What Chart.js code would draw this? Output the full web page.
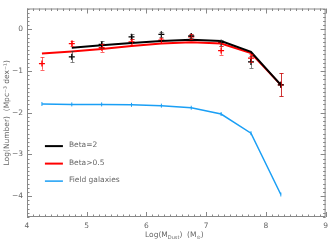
<!DOCTYPE html>
<html><head><meta charset="utf-8">
<script src="https://cdn.jsdelivr.net/npm/chart.js@4/dist/chart.umd.min.js"></script>
<style>html,body{margin:0;padding:0;background:#fff}#wrap{width:333px;height:240px}</style>
</head><body><div id="wrap"><canvas id="c" width="333" height="240"></canvas></div>
<script>
const massBins = [4.25, 4.75, 5.25, 5.75, 6.25, 6.75, 7.25, 7.75, 8.25];
const beta2Fit = [null, -0.44, -0.38, -0.33, -0.28, -0.25, -0.28, -0.54, -1.33];
const betaHalfFit = [-0.58, -0.53, -0.47, -0.40, -0.34, -0.31, -0.34, -0.57, -1.33];
const fieldFit = [-1.79, -1.80, -1.80, -1.81, -1.83, -1.88, -2.03, -2.49, -3.96];
const beta2Obs = [null, -0.66, -0.36, -0.18, -0.12, -0.16, -0.32, -0.78, -1.33];
const beta2Err = [null, 0.13, 0.08, 0.06, 0.06, 0.05, 0.07, 0.15, 0.28];
const betaHalfObs = [-0.82, -0.34, -0.44, -0.30, -0.26, -0.18, -0.51, -0.69, -1.33];
const betaHalfErr = [0.15, 0.07, 0.10, 0.07, 0.06, 0.06, 0.10, 0.10, 0.28];
const xTicks = [4, 5, 6, 7, 8, 9];
const yTicks = [-4, -3, -2, -1, 0];
const legendLabels = ['Beta=2', 'Beta>0.5', 'Field galaxies'];

const BLACK = '#000000', RED = '#ff0000', BLUE = '#1a9ff5';
const TXT = '#666666', FRAME = '#888888';
const FONT = '"DejaVu Sans", sans-serif';

function pts(xs, ys) { return xs.map((x, i) => ({x: x, y: ys[i]})).filter(p => p.y !== null); }

const frameTicks = {
  id: 'frameTicks',
  afterDraw(chart) {
    const {ctx, chartArea: a, scales: {x, y}} = chart;
    ctx.save();
    ctx.strokeStyle = FRAME; ctx.lineWidth = 1;
    ctx.strokeRect(a.left + 0.5, a.top + 0.5, a.right - a.left - 1, a.bottom - a.top - 1);
    ctx.beginPath();
    for (let k = 40; k <= 90; k++) {
      const v = k / 10, px = Math.round(x.getPixelForValue(v)) + 0.5;
      const L = (k % 10 === 0) ? 5 : 2.5;
      ctx.moveTo(px, a.bottom); ctx.lineTo(px, a.bottom - L);
      ctx.moveTo(px, a.top); ctx.lineTo(px, a.top + L);
    }
    for (let k = -45; k <= 5; k++) {
      const v = k / 10, py = Math.round(y.getPixelForValue(v)) + 0.5;
      const L = (k % 10 === 0) ? 5 : 2.5;
      ctx.moveTo(a.left, py); ctx.lineTo(a.left + L, py);
      ctx.moveTo(a.right, py); ctx.lineTo(a.right - L, py);
    }
    ctx.stroke();

    ctx.fillStyle = TXT;
    ctx.textBaseline = 'alphabetic';
    const parts = [['Log(M', 7.5, 0], ['Dust', 5, 2], [')  (M', 7.5, 0], ['\u2299', 5, 2], [')', 7.5, 0]];
    let w = 0;
    parts.forEach(p => { ctx.font = p[1] + 'px ' + FONT; w += ctx.measureText(p[0]).width; });
    let cx = (a.left + a.right) / 2 - w / 2 - 2;
    parts.forEach(p => { ctx.font = p[1] + 'px ' + FONT; ctx.fillText(p[0], cx, 237 + p[2]); cx += ctx.measureText(p[0]).width; });

    ctx.save();
    ctx.translate(7, (a.top + a.bottom) / 2);
    ctx.rotate(-Math.PI / 2);
    ctx.font = '7.5px ' + FONT; ctx.textAlign = 'center';
    ctx.fillText('Log(Number)  (Mpc\u207B\u00B3 dex\u207B\u00B9)', 0, 2);
    ctx.restore();

    const cols = [BLACK, RED, BLUE];
    const lx = x.getPixelForValue(4.3), ly0 = y.getPixelForValue(-2.8), dy = 17.5;
    legendLabels.forEach((t, i) => {
      const yy = ly0 + i * dy;
      ctx.strokeStyle = cols[i]; ctx.lineWidth = (i === 2) ? 1.5 : 2;
      ctx.beginPath(); ctx.moveTo(lx, yy); ctx.lineTo(lx + 18, yy); ctx.stroke();
      ctx.font = '7.5px ' + FONT; ctx.textAlign = 'left'; ctx.textBaseline = 'middle';
      ctx.fillText(t, lx + 24, yy - 1);
    });
    ctx.restore();
  }
};

const errBars = {
  id: 'errBars',
  afterDatasetsDraw(chart) {
    const {ctx, scales: {x, y}} = chart;
    ctx.save(); ctx.lineWidth = 1;
    const draw = (vals, errs, col) => {
      ctx.strokeStyle = col; ctx.beginPath();
      massBins.forEach((m, i) => {
        if (vals[i] === null) return;
        const px = Math.round(x.getPixelForValue(m)) + 0.5;
        const y1 = y.getPixelForValue(vals[i] + errs[i]), y2 = y.getPixelForValue(vals[i] - errs[i]);
        ctx.moveTo(px, y1); ctx.lineTo(px, y2);
        ctx.moveTo(px - 2, Math.round(y1) + 0.5); ctx.lineTo(px + 2, Math.round(y1) + 0.5);
        ctx.moveTo(px - 2, Math.round(y2) + 0.5); ctx.lineTo(px + 2, Math.round(y2) + 0.5);
      });
      ctx.stroke();
    };
    ctx.globalAlpha = 0.6;
    draw(beta2Obs, beta2Err, '#333');
    draw(betaHalfObs, betaHalfErr, RED);
    ctx.restore();
  }
};

new Chart(document.getElementById('c'), {
  type: 'scatter',
  data: {
    datasets: [
      {label: legendLabels[2], data: pts(massBins, fieldFit), showLine: true, tension: 0, borderColor: BLUE, borderWidth: 1.5,
       pointStyle: 'line', rotation: 90, pointRadius: 2, pointBorderColor: BLUE, pointBorderWidth: 1},
      {label: legendLabels[0], data: pts(massBins, beta2Fit), showLine: true, tension: 0, borderColor: BLACK, borderWidth: 2, pointRadius: 0},
      {label: legendLabels[1], data: pts(massBins, betaHalfFit), showLine: true, tension: 0, borderColor: RED, borderWidth: 2, pointRadius: 0},
      {label: 'obs2', data: pts(massBins, beta2Obs), showLine: false, pointStyle: 'cross', pointRadius: 3,
       pointBorderColor: BLACK, pointBorderWidth: 1.3},
      {label: 'obsHalf', data: pts(massBins, betaHalfObs), showLine: false, pointStyle: 'cross', pointRadius: 3,
       pointBorderColor: RED, pointBorderWidth: 1.3}
    ]
  },
  options: {
    responsive: false, animation: false, devicePixelRatio: 1,
    layout: {padding: {top: 1, right: 2, left: 0, bottom: 0}},
    plugins: {legend: {display: false}, tooltip: {enabled: false}},
    scales: {
      x: {type: 'linear', min: 4, max: 9,
          afterBuildTicks: s => { s.ticks = xTicks.map(v => ({value: v})); },
          afterFit: s => { s.height = 23; },
          grid: {display: false, drawTicks: false}, border: {display: false},
          ticks: {padding: 5, color: TXT, font: {family: FONT, size: 7.5}, maxRotation: 0, callback: v => String(v)}},
      y: {type: 'linear', min: -4.5, max: 0.5,
          afterBuildTicks: s => { s.ticks = yTicks.map(v => ({value: v})); },
          afterFit: s => { s.width = 27; },
          grid: {display: false, drawTicks: false}, border: {display: false},
          ticks: {padding: 4, color: TXT, font: {family: FONT, size: 7.5}, callback: v => (v < 0 ? '\u2212' + Math.abs(v) : String(v))}}
    }
  },
  plugins: [frameTicks, errBars]
});
</script></body></html>
